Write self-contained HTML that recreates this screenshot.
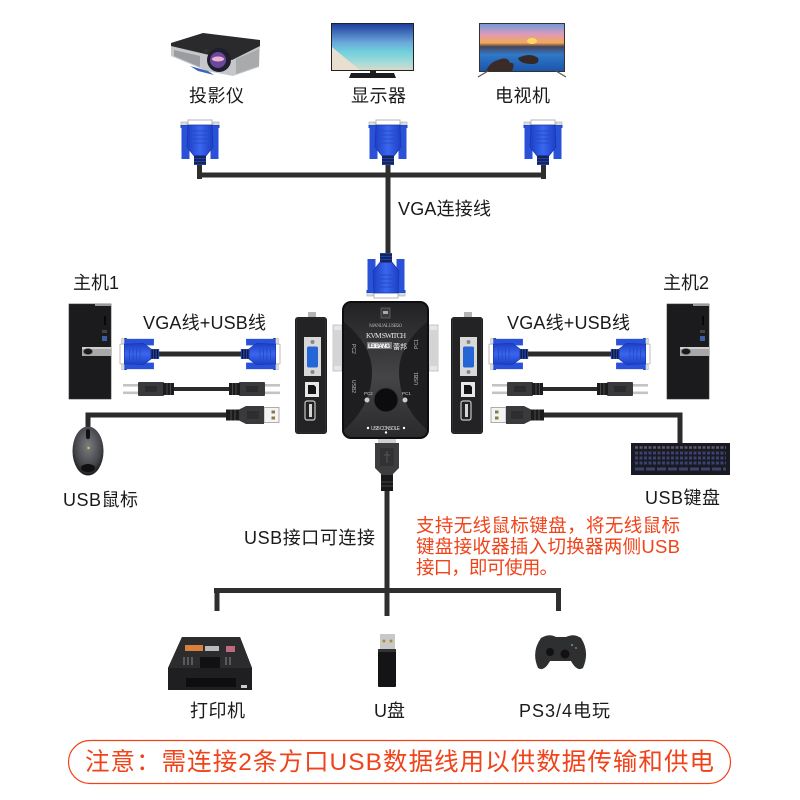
<!DOCTYPE html>
<html><head><meta charset="utf-8">
<style>
html,body{margin:0;padding:0;background:#fff}
svg{display:block}
text{font-family:"Liberation Sans","Noto Sans CJK SC",sans-serif;fill:#1a1a1a;font-size:18px}
.r{fill:#f0431a}
</style></head>
<body>
<svg width="800" height="800" viewBox="0 0 800 800" xmlns="http://www.w3.org/2000/svg">
<defs>
<linearGradient id="blue" x1="0" x2="1" y1="0" y2="0"><stop offset="0" stop-color="#1b3fc4"/><stop offset=".5" stop-color="#3a66ee"/><stop offset="1" stop-color="#1b3fc4"/></linearGradient>
<linearGradient id="sky" x1="0" x2="0" y1="0" y2="1"><stop offset="0" stop-color="#1d3f9c"/><stop offset=".4" stop-color="#6ba6dc"/><stop offset=".6" stop-color="#6fd0dc"/><stop offset=".85" stop-color="#a8dcd8"/><stop offset="1" stop-color="#d8d8c8"/></linearGradient>
<linearGradient id="tv" x1="0" x2="0" y1="0" y2="1"><stop offset="0" stop-color="#6f9ad4"/><stop offset=".2" stop-color="#d89ac0"/><stop offset=".4" stop-color="#f5a858"/><stop offset=".48" stop-color="#4a4458"/><stop offset=".65" stop-color="#2f78c8"/><stop offset="1" stop-color="#1c55a8"/></linearGradient>
<linearGradient id="kvm" x1="0" x2="0" y1="0" y2="1"><stop offset="0" stop-color="#222224"/><stop offset=".55" stop-color="#454547"/><stop offset="1" stop-color="#2a2a2c"/></linearGradient>
<linearGradient id="metal" x1="0" x2="1" y1="0" y2="0"><stop offset="0" stop-color="#d8d8da"/><stop offset=".5" stop-color="#c0c0c2"/><stop offset="1" stop-color="#9a9a9c"/></linearGradient>
<radialGradient id="mouse" cx=".5" cy=".4" r=".6"><stop offset="0" stop-color="#7a7d82"/><stop offset=".7" stop-color="#44464a"/><stop offset="1" stop-color="#1c1d20"/></radialGradient>

<!-- VGA connector: cable end at bottom, pins up. origin top centre -->
<g id="vga">
 <rect x="-12" y="0" width="24" height="7" fill="#fff" stroke="#b5b5b5" stroke-width="1"/>
 <rect x="-19" y="2" width="6" height="5" fill="#ddd" stroke="#aaa" stroke-width=".6"/>
 <rect x="13" y="2" width="6" height="5" fill="#ddd" stroke="#aaa" stroke-width=".6"/>
 <rect x="-19.5" y="5" width="39" height="3" fill="#1f47d0"/>
 <rect x="-18.5" y="6" width="8" height="33" fill="#2a52d8"/>
 <rect x="10.5" y="6" width="8" height="33" fill="#2a52d8"/>
 <path d="M-12 5H12L13 27 5 37H-5L-13 27Z" fill="url(#blue)" stroke="#1a38b0" stroke-width=".8"/>
 <path d="M-7 11H7M-7 15H7M-7 19H7M-6 23H6" stroke="#2446bc" stroke-width=".8"/>
 <rect x="-6" y="35" width="12" height="10" fill="#1d3fb5"/>
 <path d="M-6 37H6M-6 40H6M-6 43H6" stroke="#15151a" stroke-width="1.3"/>
</g>

<!-- USB B plug, origin at metal left, centre y -->
<g id="usbb">
 <rect x="0" y="-5" width="15" height="2.6" fill="#c4c4c4"/>
 <rect x="0" y="2.500" width="15" height="2.600" fill="#c4c4c4"/>
 <rect x="15" y="-7" width="26" height="14" rx="1" fill="#3a3a3c"/>
 <rect x="22" y="-3" width="12" height="6" fill="#2c2c2e"/>
 <rect x="40" y="-6" width="11" height="12" fill="#1c1c1e"/>
 <path d="M44 -6V6M47.500 -6V6" stroke="#4a4a4a" stroke-width="1"/>
</g>

<!-- USB A plug, origin at metal left tip, centre y -->
<g id="usba">
 <rect x="0" y="-7.500" width="15" height="15" fill="#f4f4f4" stroke="#9a9a9a" stroke-width=".8"/>
 <rect x="4" y="-4.500" width="3.500" height="3" fill="#8a7a40"/>
 <rect x="4" y="1.500" width="3.500" height="3" fill="#8a7a40"/>
 <path d="M15 -9H33L41 -5V5L33 9H15Z" fill="#3a3a3c"/>
 <rect x="20" y="-4" width="12" height="8" fill="#2e2e30"/>
 <rect x="40" y="-5.500" width="13" height="11" fill="#1c1c1e"/>
 <path d="M44 -5.500V5.500M48 -5.500V5.500" stroke="#4a4a4a" stroke-width="1"/>
</g>

<!-- PC tower -->
<g id="pc">
 <rect x="0" y="0" width="42" height="95" fill="#1b1b1d"/>
 <rect x="0" y="0" width="42" height="95" fill="none" stroke="#333" stroke-width=".6"/>
 <rect x="26" y="0" width="16" height="2" fill="#999"/>
 <rect x="13" y="43" width="29" height="9" fill="#a8a8a8"/>
 <rect x="13" y="43" width="29" height="2" fill="#d0d0d0"/>
 <ellipse cx="19" cy="47.500" rx="4.500" ry="3" fill="#1a1a1a" stroke="#666" stroke-width=".6"/>
 <rect x="35" y="12" width="2" height="9" fill="#070707"/>
 <rect x="33" y="26" width="5" height="3" fill="#444"/>
 <rect x="33" y="32" width="5" height="5" fill="#3a5fa8"/>
</g>

<!-- side view of KVM switch -->
<g id="side">
 <rect x="13" y="-5" width="8" height="6" fill="#b5b5b5"/>
 <rect x="0" y="0" width="32" height="117" rx="3" fill="#1d1d1f"/>
 <rect x="1.500" y="1" width="29" height="115" rx="2" fill="#232325" stroke="#3c3c3e" stroke-width=".6"/>
 <rect x="9" y="20" width="17" height="39" fill="#d8d8d8"/>
 <circle cx="17.500" cy="25" r="2" fill="#888"/><circle cx="17.500" cy="55" r="2" fill="#888"/>
 <path d="M12 31 Q12 29.500 14 29.500H21Q23 29.500 23 31V49Q23 50.500 21 50.500H14Q12 50.500 12 49Z" fill="#2566d6"/>
 <rect x="10" y="65" width="14" height="15" fill="#e8e8e8"/>
 <path d="M13 68H19L21 70V77H13Z" fill="#151515"/>
 <rect x="10" y="84" width="10" height="19" rx="2" fill="#222" stroke="#c8c8c8" stroke-width="1.200"/>
 <rect x="14" y="87" width="3" height="13" fill="#d4d4d4"/>
</g>
</defs>

<rect width="800" height="800" fill="#fff"/>

<!-- Top devices -->
<g>
 <!-- projector -->
 <path d="M171 43 L171 56 L207 71 L233 76 L259 67 L260 44 L232 52 L205 52Z" fill="#c6c7ca"/>
 <path d="M171 43 L203 33 L260 40 L260 46 L232 60 L205 54 L171 46Z" fill="#2a2a2c"/>
 <path d="M236 59 L259 49 L259 66 L236 74Z" fill="#a8aaac"/>
 <path d="M174 50 L200 56 V67 L174 56Z" fill="#9a9ca0"/>
 <path d="M190 66 L208 71 L214 75 L198 71Z" fill="#3a66b8"/>
 <circle cx="206" cy="51" r="2" fill="#333"/>
 <circle cx="219" cy="60" r="12" fill="#1e1e2e"/>
 <circle cx="218" cy="60" r="8" fill="#6a4a98"/>
 <ellipse cx="218" cy="59" rx="6" ry="2.500" fill="#f0b0d8"/>

 <!-- monitor -->
 <rect x="331" y="23" width="83" height="48" fill="#222"/>
 <rect x="332" y="24" width="81" height="46" fill="url(#sky)"/>
 <path d="M332 47 L332 70 L360 70 Q345 58 332 47Z" fill="#e8dfd0"/>
 <rect x="370" y="70" width="6" height="4" fill="#222"/>
 <path d="M351 73H394L396 78H349Z" fill="#1c1c1c"/>

 <!-- TV -->
 <rect x="479" y="23" width="86" height="49" fill="#333"/>
 <rect x="480" y="24" width="84" height="47" fill="url(#tv)"/>
 <ellipse cx="532" cy="41" rx="5" ry="3" fill="#ffd860"/>
 <path d="M486 71 Q490 62 498 60 Q508 56 510 63 Q516 62 512 71Z" fill="#3a2a28"/>
 <path d="M518 58 Q530 52 538 58 Q540 64 532 64 Q520 64 518 58Z" fill="#352826"/>
 <path d="M478 77 L488 71 M566 77 L556 71" stroke="#555" stroke-width="1.200"/>
</g>

<!-- cables top -->
<g fill="#2e2e2e">
 <rect x="197" y="172.500" width="349" height="5"/>
 <rect x="197" y="165" width="5" height="14"/>
 <rect x="541" y="165" width="5" height="14"/>
 <rect x="385.500" y="165" width="5" height="90"/>
</g>
<use href="#vga" x="200" y="120"/>
<use href="#vga" x="388" y="120"/>
<use href="#vga" x="543" y="120"/>

<!-- left-right KVM rear connectors -->
<rect x="333" y="325" width="9" height="46" fill="#e6e6e6" stroke="#bbb" stroke-width=".8"/>
<rect x="429" y="325" width="9" height="46" fill="#e6e6e6" stroke="#bbb" stroke-width=".8"/>
<rect x="334" y="330" width="8" height="36" fill="#d4d4d4"/>
<rect x="429" y="330" width="8" height="36" fill="#d4d4d4"/>

<!-- central vga -->
<use href="#vga" transform="translate(386,298) scale(1,-1)"/>

<!-- bottom USB -->
<rect x="384.500" y="485" width="5" height="110" fill="#2e2e2e"/>
<rect x="378" y="439" width="18" height="4" fill="#cfcfcf"/>
<path d="M375 443H399V468L393 474V482H381V474L375 468Z" fill="#3d3d40"/>
<rect x="380" y="448" width="14" height="18" rx="1" fill="#323234"/>
<path d="M387 451V463M384 455H390" stroke="#555" stroke-width="1"/>
<rect x="381" y="475" width="12" height="16" fill="#18181a"/>
<path d="M381 482H393M381 486H393" stroke="#444" stroke-width="1"/>

<!-- KVM body -->
<rect x="342" y="301" width="87" height="138" rx="9" fill="#0e0e10"/>
<rect x="344" y="303" width="83" height="134" rx="7" fill="url(#kvm)"/>
<path d="M344 322 Q372 345 372 372 Q372 405 344 430V310Z" fill="#1e1e20"/>
<path d="M427 322 Q399 345 399 372 Q399 405 427 430V310Z" fill="#1e1e20"/>
<rect x="381" y="308" width="9" height="10" fill="#3a3a3c" stroke="#777" stroke-width=".6"/>
<rect x="383" y="311" width="5" height="3" fill="#aaa"/>
<text x="369" y="327" style="font-size:5.500px;font-family:'Liberation Serif',serif;fill:#aaa" textLength="33">MANUAL USB2.0</text>
<text x="366" y="338" style="font-size:7.500px;font-family:'Liberation Serif',serif;fill:#e8e8e8" textLength="40">KVM SWITCH</text>
<rect x="367" y="342" width="25" height="7" fill="#7a7a7a"/>
<text x="368" y="348" style="font-size:6px;font-weight:bold;fill:#fff" textLength="22">LEIBANG</text>
<text x="393" y="349" style="font-size:7px;fill:#eee" textLength="14">蕾邦</text>
<text x="352" y="344" style="font-size:5px;fill:#bbb" transform="rotate(90 352 344)">PC2</text>
<text x="418" y="349" style="font-size:5px;fill:#bbb" transform="rotate(-90 418 349)">PC1</text>
<text x="352" y="380" style="font-size:5px;fill:#bbb" transform="rotate(90 352 380)">USB2</text>
<text x="418" y="385" style="font-size:5px;fill:#bbb" transform="rotate(-90 418 385)">USB1</text>
<circle cx="386" cy="400" r="12" fill="#0c0c0e" stroke="#333" stroke-width="1"/>
<circle cx="367" cy="400" r="2.500" fill="#ccc"/><circle cx="405" cy="400" r="2.500" fill="#ccc"/>
<text x="364" y="395" style="font-size:4.500px;fill:#ccc">PC2</text>
<text x="402" y="395" style="font-size:4.500px;fill:#ccc">PC1</text>
<text x="371" y="430" style="font-size:5px;fill:#ddd" textLength="29">USB CONSOLE</text>
<circle cx="368" cy="428" r="1.200" fill="#fff"/><circle cx="404" cy="428" r="1.200" fill="#fff"/><circle cx="386" cy="432.500" r="1.200" fill="#fff"/>

<!-- side devices -->
<use href="#side" x="295" y="317"/>
<use href="#side" x="451" y="317"/>

<!-- PCs -->
<use href="#pc" x="69" y="304"/>
<use href="#pc" x="667" y="304"/>

<!-- Left VGA pair -->
<rect x="155" y="351.500" width="92" height="5" fill="#2b2b2b"/>
<use href="#vga" transform="translate(120,354) rotate(-90) scale(.82,.87)"/>
<use href="#vga" transform="translate(280,354) rotate(90) scale(.82,.87)"/>
<!-- Right VGA pair -->
<rect x="524" y="351.500" width="92" height="5" fill="#2b2b2b"/>
<use href="#vga" transform="translate(489,354) rotate(-90) scale(.82,.87)"/>
<use href="#vga" transform="translate(650,354) rotate(90) scale(.82,.87)"/>

<!-- USB B lines -->
<rect x="170" y="387" width="64" height="4" fill="#2b2b2b"/>
<use href="#usbb" transform="translate(123,389)"/>
<use href="#usbb" transform="translate(280,389) scale(-1,1)"/>
<rect x="540" y="387" width="62" height="4" fill="#2b2b2b"/>
<use href="#usbb" transform="translate(492,389)"/>
<use href="#usbb" transform="translate(648,389) scale(-1,1)"/>

<!-- USB A mouse -->
<path d="M88 428 V415 H232" fill="none" stroke="#2b2b2b" stroke-width="5"/>
<use href="#usba" transform="translate(279,415) scale(-1,1)"/>
<!-- USB A keyboard -->
<path d="M538 415 H680 V446" fill="none" stroke="#2b2b2b" stroke-width="5"/>
<use href="#usba" transform="translate(491,415)"/>

<!-- Mouse -->
<ellipse cx="88" cy="451" rx="15.500" ry="24.500" fill="url(#mouse)"/>
<rect x="86" y="429" width="4" height="10" rx="2" fill="#111"/>
<circle cx="88.500" cy="448" r="1.200" fill="#c8d040"/>
<ellipse cx="88" cy="468" rx="7" ry="4" fill="#101012"/>

<!-- Keyboard -->
<rect x="631" y="443" width="99" height="32" fill="#191a22"/>
<g fill="none" stroke="#3c4270" stroke-width="3" stroke-dasharray="3 1.500">
 <path d="M635 447.500H726" stroke="#5a5a6c" stroke-width="2.500"/>
 <path d="M635 453H726"/><path d="M635 458H726"/><path d="M635 463H726"/>
 <path d="M635 469H726" stroke-dasharray="9 2"/>
</g>

<!-- Bottom cables -->
<g fill="#2e2e2e">
 <rect x="214" y="588" width="347" height="5"/>
 <rect x="214.500" y="590" width="5" height="21"/>
 <rect x="384.500" y="590" width="5" height="26"/>
 <rect x="556" y="590" width="5" height="21"/>
</g>

<!-- Printer -->
<path d="M182 637H240L252 668V690H168V668Z" fill="#1f1f21"/>
<path d="M168 668L182 637H240L252 668Z" fill="#2c2c2e"/>
<rect x="185" y="645" width="18" height="6" fill="#d9803a"/>
<rect x="205" y="646" width="14" height="5" fill="#bbb"/>
<rect x="226" y="646" width="9" height="6" fill="#c06a80"/>
<rect x="200" y="657" width="20" height="11" fill="#111"/>
<path d="M184 657V665M188 657V665M192 657V665M226 657V665M230 657V665" stroke="#888" stroke-width="1"/>
<rect x="186" y="678" width="50" height="9" fill="#0e0e0e"/>
<rect x="241" y="685" width="6" height="3" fill="#ccc"/>

<!-- USB drive -->
<rect x="380" y="634" width="15" height="15" fill="#c8c8c8"/>
<circle cx="384" cy="641" r="1.500" fill="#b08a30"/><circle cx="391" cy="641" r="1.500" fill="#b08a30"/>
<rect x="378" y="649" width="18" height="38" rx="1" fill="#141416"/>
<rect x="378" y="649" width="18" height="3" fill="#333"/>

<!-- Gamepad -->
<path d="M541 638 Q549 633 556 637 H566 Q574 633 581 638 Q590 652 583 668 Q577 672 571 661 H550 Q544 672 538 668 Q531 652 541 638Z" fill="#2e2f31"/>
<circle cx="550" cy="652" r="4" fill="#111"/><circle cx="565" cy="654" r="4.500" fill="#111"/>
<circle cx="572" cy="645" r="1" fill="#5a8"/><circle cx="576" cy="648" r="1" fill="#c55"/>

<!-- Labels -->
<text x="189" y="102" textLength="55">投影仪</text>
<text x="351" y="102" textLength="55">显示器</text>
<text x="495" y="102" textLength="55">电视机</text>
<text x="398" y="215" textLength="93">VGA连接线</text>
<text x="73" y="289" textLength="46">主机1</text>
<text x="663" y="289" textLength="46">主机2</text>
<text x="143" y="329" textLength="123">VGA线+USB线</text>
<text x="507" y="329" textLength="123">VGA线+USB线</text>
<text x="63" y="506" textLength="75">USB鼠标</text>
<text x="645" y="504" textLength="75">USB键盘</text>
<text x="244" y="544" textLength="131">USB接口可连接</text>
<text x="190" y="717" textLength="55">打印机</text>
<text x="374" y="717" textLength="31">U盘</text>
<text x="519" y="717" textLength="91">PS3/4电玩</text>

<text class="r" x="416" y="532" textLength="264" style="font-size:18.500px">支持无线鼠标键盘，将无线鼠标</text>
<text class="r" x="416" y="553" textLength="264" style="font-size:18.500px">键盘接收器插入切换器两侧USB</text>
<text class="r" x="416" y="574" textLength="142" style="font-size:18.500px">接口，即可使用。</text>

<rect x="68.500" y="740.500" width="662" height="43" rx="21.500" fill="#fff" stroke="#f0431a" stroke-width="1.200"/>
<text class="r" x="85" y="770" textLength="629" style="font-size:24.500px">注意：需连接2条方口USB数据线用以供数据传输和供电</text>
</svg>
</body></html>
